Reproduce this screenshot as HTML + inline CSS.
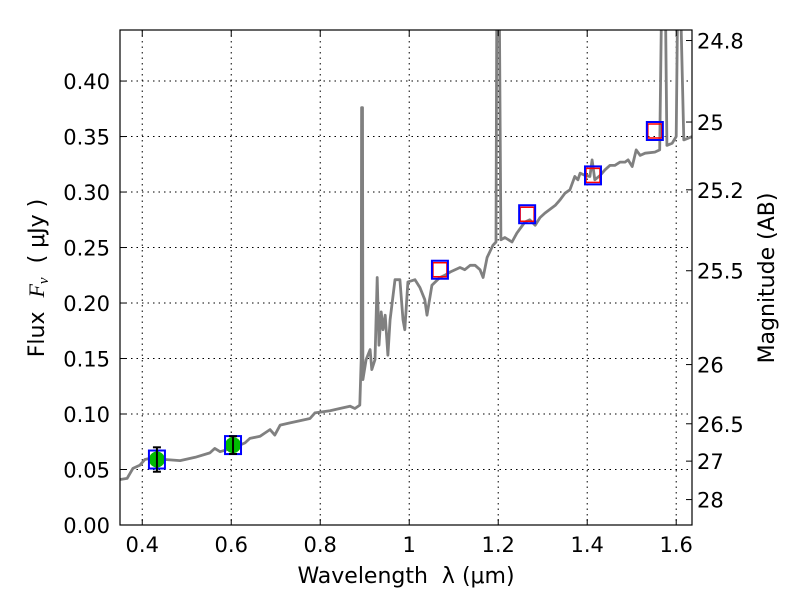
<!DOCTYPE html>
<html><head><meta charset="utf-8"><style>
html,body{margin:0;padding:0;background:#fff;}
svg text{font-family:"DejaVu Sans","Liberation Sans",sans-serif;fill:#000;}
</style></head><body>
<svg id="chart" width="800" height="600" xmlns="http://www.w3.org/2000/svg">
<defs><clipPath id="clip"><rect x="120" y="30" width="572" height="495"/></clipPath></defs>
<rect x="0" y="0" width="800" height="600" fill="#fff"/>
<g id="grid"></g>
<g id="series" clip-path="url(#clip)"></g>
<rect x="120" y="30" width="572" height="495" fill="none" stroke="#000" stroke-width="1.2"/>
<g id="axes"></g>
<text x="406" y="583" font-size="22" text-anchor="middle" xml:space="preserve">Wavelength  λ (μm)</text>
<text transform="translate(44,278) rotate(-90)" font-size="22" text-anchor="middle" xml:space="preserve">Flux  <tspan font-style="italic" font-family="Liberation Serif, serif">F</tspan><tspan font-style="italic" font-size="15" dy="4" font-family="Liberation Serif, serif">ν</tspan><tspan dy="-4">  ( μJy )</tspan></text>
<text transform="translate(774,278) rotate(-90)" font-size="22" text-anchor="middle">Magnitude (AB)</text>
</svg>
<script>
const specWave=[0.350,0.366,0.379,0.395,0.406,0.429,0.451,0.485,0.519,0.552,0.563,0.575,0.608,0.631,0.642,0.665,0.676,0.687,0.698,0.710,0.732,0.754,0.777,0.788,0.822,0.844,0.867,0.878,0.889,0.892,0.893,0.895,0.896,0.903,0.912,0.916,0.923,0.928,0.932,0.937,0.941,0.946,0.952,0.957,0.968,0.979,0.986,0.990,0.997,1.013,1.024,1.035,1.040,1.051,1.069,1.080,1.092,1.114,1.125,1.137,1.148,1.159,1.166,1.175,1.188,1.195,1.197,1.202,1.206,1.215,1.231,1.242,1.260,1.271,1.283,1.294,1.305,1.328,1.339,1.350,1.361,1.372,1.379,1.384,1.395,1.406,1.411,1.417,1.429,1.440,1.451,1.462,1.474,1.485,1.492,1.501,1.510,1.519,1.530,1.552,1.563,1.568,1.575,1.579,1.591,1.600,1.604,1.608,1.617,1.636];
const specFlux=[0.041,0.042,0.051,0.054,0.059,0.061,0.059,0.058,0.061,0.065,0.069,0.066,0.070,0.074,0.078,0.080,0.083,0.086,0.081,0.090,0.092,0.094,0.096,0.101,0.103,0.105,0.107,0.105,0.108,0.149,0.376,0.376,0.131,0.149,0.158,0.140,0.149,0.223,0.162,0.192,0.176,0.189,0.153,0.185,0.221,0.221,0.185,0.176,0.219,0.221,0.214,0.203,0.189,0.216,0.223,0.225,0.228,0.232,0.230,0.234,0.234,0.230,0.223,0.241,0.252,0.255,0.5,0.5,0.257,0.259,0.255,0.263,0.273,0.275,0.270,0.277,0.281,0.288,0.293,0.299,0.302,0.314,0.311,0.317,0.315,0.314,0.329,0.311,0.315,0.320,0.324,0.324,0.327,0.327,0.329,0.323,0.338,0.333,0.335,0.336,0.338,0.5,0.5,0.342,0.344,0.350,0.5,0.5,0.347,0.350];
const obsWave=[0.433,0.604];
const obsFlux=[0.059,0.072];
const obsErr=[0.011,0.008];
const modelWave=[0.433,0.604,1.069,1.265,1.413,1.552];
const modelFlux=[0.059,0.072,0.230,0.280,0.315,0.355];
const nirWave=[1.069,1.265,1.413,1.552];
const nirFlux=[0.230,0.280,0.315,0.355];
const xTicks=[0.4,0.6,0.8,1.0,1.2,1.4,1.6];
const xTickLabels=["0.4","0.6","0.8","1","1.2","1.4","1.6"];
const yTicks=[0,0.05,0.10,0.15,0.20,0.25,0.30,0.35,0.40];
const yTickLabels=["0.00","0.05","0.10","0.15","0.20","0.25","0.30","0.35","0.40"];
const magTicks=[24.8,25,25.2,25.5,26,26.5,27,28];
const magTickLabels=["24.8","25","25.2","25.5","26","26.5","27","28"];

const X0=120,X1=692,Y0=525,Y1=30,XMIN=0.35,XMAX=1.6355,YMIN=0,YMAX=0.446;
function sx(v){return X0+(v-XMIN)/(XMAX-XMIN)*(X1-X0);}
function sy(v){return Y0-(v-YMIN)/(YMAX-YMIN)*(Y0-Y1);}
const NS="http://www.w3.org/2000/svg";
function mk(tag,attrs,parent){const e=document.createElementNS(NS,tag);for(const k in attrs)e.setAttribute(k,attrs[k]);parent.appendChild(e);return e;}
const grid=document.getElementById('grid'),axes=document.getElementById('axes'),series=document.getElementById('series');

xTicks.forEach((t,i)=>{const x=sx(t);
 const g=mk('line',{x1:x,x2:x,y1:Y1,y2:Y0,stroke:'#000','stroke-dasharray':'1.5,4','stroke-width':1},grid);
 
 
 mk('line',{x1:x,x2:x,y1:Y0,y2:Y0-6,stroke:'#000'},axes);
 mk('line',{x1:x,x2:x,y1:Y1,y2:Y1+6,stroke:'#000'},axes);
 const tx=mk('text',{x:x,y:Y0+27,'font-size':21,'text-anchor':'middle'},axes);tx.textContent=xTickLabels[i];
 
 
});
yTicks.forEach((t,i)=>{const y=sy(t);
 if(t>0){const g=mk('line',{x1:X0,x2:X1,y1:y,y2:y,stroke:'#000','stroke-dasharray':'1.5,4','stroke-width':1},grid);
 
 }
 mk('line',{x1:X0,x2:X0+6,y1:y,y2:y,stroke:'#000'},axes);
 const tx=mk('text',{x:X0-10,y:y+8,'font-size':21,'text-anchor':'end'},axes);tx.textContent=yTickLabels[i];
 
 
});
magTicks.forEach((m,i)=>{const y=sy(Math.pow(10,(23.9-m)/2.5));
 mk('line',{x1:X1,x2:X1-6,y1:y,y2:y,stroke:'#000'},axes);
 const tx=mk('text',{x:X1+5,y:y+8,'font-size':21},axes);tx.textContent=magTickLabels[i];
 
 
});
let d='';specWave.forEach((w,i)=>{d+=(i?'L':'M')+sx(w).toFixed(1)+','+sy(specFlux[i]).toFixed(1);});
const sp=mk('path',{d:d,fill:'none',stroke:'#808080','stroke-width':2.8,'stroke-linejoin':'round'},series);


obsWave.forEach((w,i)=>{const x=sx(w),y=sy(obsFlux[i]);
 const c=mk('circle',{cx:x,cy:y,r:8,fill:'#00bb00'},series);
 
 
});
nirWave.forEach((w,i)=>{const x=sx(w),y=sy(nirFlux[i]);
 const r=mk('rect',{x:x-7,y:y-7,width:14,height:14,fill:'none',stroke:'#ff0000','stroke-width':1.5},series);
 
 
});
modelWave.forEach((w,i)=>{const x=sx(w),y=sy(modelFlux[i]);
 const r=mk('rect',{x:x-8,y:y-9,width:16,height:18,fill:'none',stroke:'#0000ff','stroke-width':2},series);
 
 
});
obsWave.forEach((w,i)=>{const x=sx(w),yt=sy(obsFlux[i]+obsErr[i]),yb=sy(obsFlux[i]-obsErr[i]);
 const g=mk('g',{stroke:'#000','stroke-width':2},series);
 
 
 mk('line',{x1:x,x2:x,y1:yt,y2:yb},g);
 mk('line',{x1:x-4,x2:x+4,y1:yt,y2:yt},g);
 mk('line',{x1:x-4,x2:x+4,y1:yb,y2:yb},g);
});
</script>
</body></html>
